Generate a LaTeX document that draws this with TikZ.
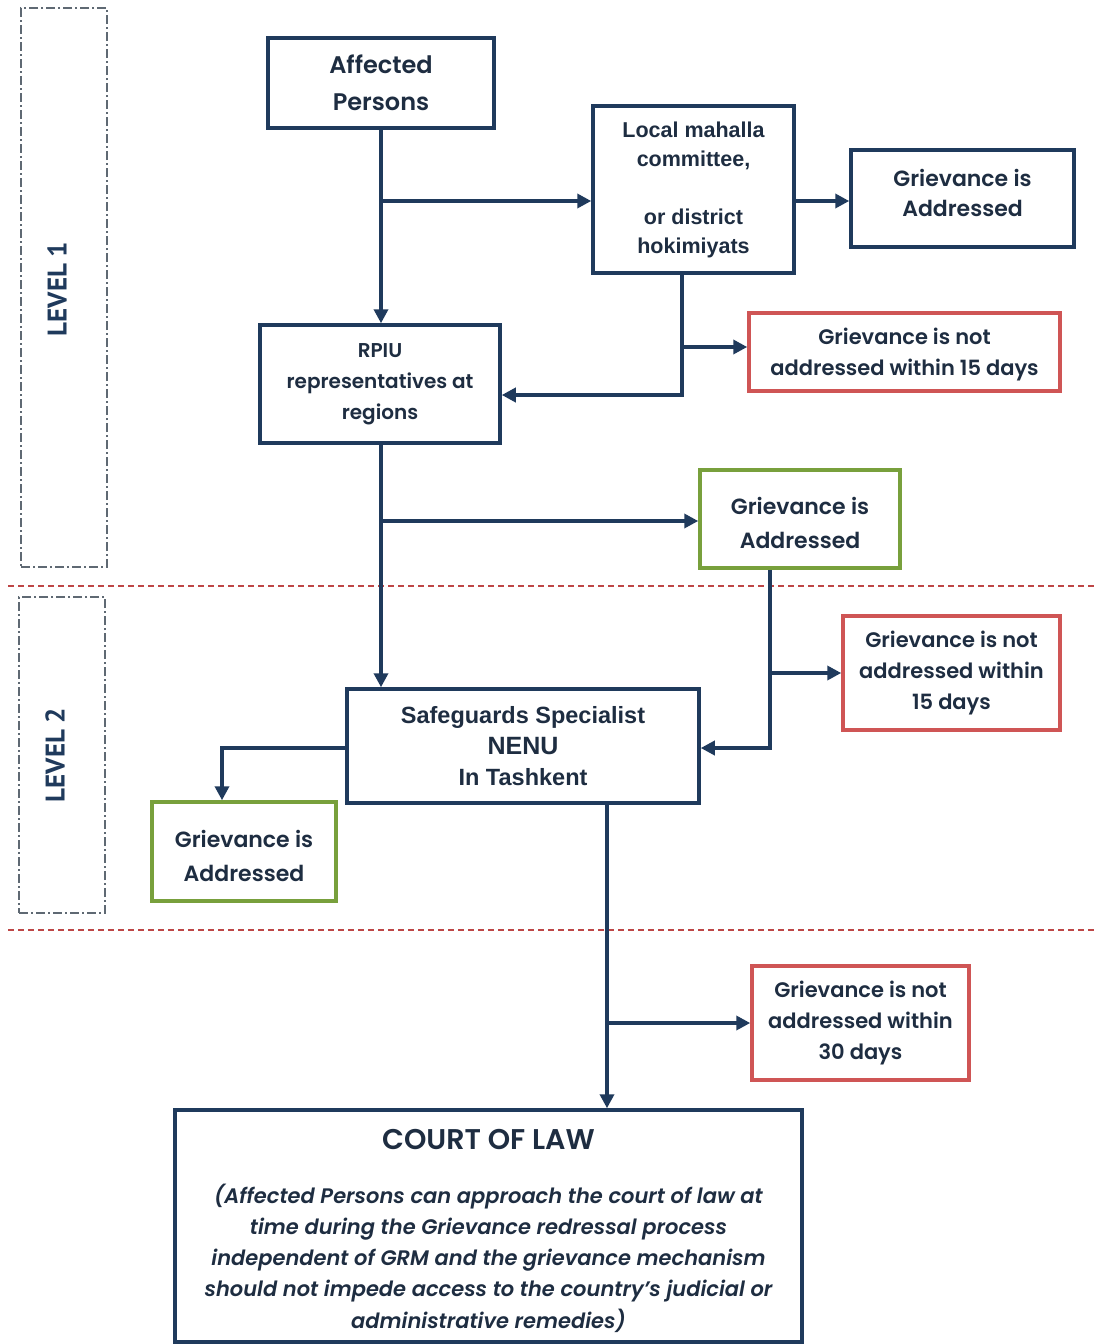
\documentclass[tikz,border=0pt]{standalone}
\usepackage{fontspec}
\setmainfont{Poppins}[BoldFont=* SemiBold, BoldItalicFont=* SemiBold Italic]
\newfontfamily\arialf{Liberation Sans}
\newfontfamily\levelf{PT Sans}
\usetikzlibrary{arrows.meta}
\definecolor{navy}{RGB}{31,58,92}
\definecolor{ink}{RGB}{30,45,65}
\definecolor{redc}{RGB}{207,85,85}
\definecolor{greenc}{RGB}{120,160,60}
\definecolor{dashgray}{RGB}{95,105,115}
\definecolor{reddash}{RGB}{190,70,70}
\begin{document}
\begin{tikzpicture}[x=1pt,y=-1pt,
  box/.style={draw=navy, line width=3.5pt, text=ink, align=center, inner sep=0pt},
  redbox/.style={box, draw=redc},
  greenbox/.style={box, draw=greenc},
  txt/.style={text=ink, align=center, inner sep=0pt},
  conn/.style={draw=navy, line width=3.5pt, -{Triangle[length=14pt,width=14pt]}},
  levelbox/.style={draw=dashgray, line width=1.3pt, dash pattern=on 9pt off 3pt on 2pt off 3pt},
  leveltext/.style={text=navy, font=\levelf\bfseries\fontsize{27}{30}\selectfont, rotate=90},
  sep/.style={draw=reddash, line width=1.3pt, dash pattern=on 6pt off 4pt}
]
\useasboundingbox (0,0) rectangle (1095,1344);
\fill[white] (0,0) rectangle (1095,1344);

% level boxes
\node[levelbox, minimum width=86pt, minimum height=559pt] (lb1) at (64,287.5) {};
\node[leveltext] (lt1) at (57,289) {LEVEL 1};
\node[levelbox, minimum width=86pt, minimum height=316pt] (lb2) at (62,755) {};
\node[leveltext] (lt2) at (55,755) {LEVEL 2};

% separators
\coordinate (s1a) at (8,586); \coordinate (s1b) at (1095,586);
\coordinate (s2a) at (8,930); \coordinate (s2b) at (1095,930);
\draw[sep] (s1a) -- (s1b);
\draw[sep] (s2a) -- (s2b);

% nodes
\node[box, minimum width=226pt, minimum height=90pt, font=\bfseries\fontsize{24}{37}\selectfont] (ap) at (381,83) {Affected\\Persons};
\node[box, minimum width=201pt, minimum height=167pt, font=\arialf\bfseries\fontsize{21.5}{29}\selectfont] (mah) at (693.5,189.5) {Local mahalla\\committee,\\[29pt]or district\\hokimiyats};
\node[box, minimum width=223pt, minimum height=97pt,
  label={[txt, font=\bfseries\fontsize{22}{30}\selectfont, yshift=6pt]center:{Grievance is\\Addressed}}] (ga1) at (962.5,198.5) {};
\node[redbox, minimum width=311pt, minimum height=78pt,
  label={[txt, font=\bfseries\fontsize{21}{31}\selectfont, yshift=-3pt]center:{Grievance is not\\addressed within 15 days}}] (nr1) at (904.5,352) {};
\node[box, minimum width=240pt, minimum height=118pt, font=\bfseries\fontsize{20}{31}\selectfont] (rpiu) at (380,384) {RPIU\\representatives at\\regions};
\node[greenbox, minimum width=200pt, minimum height=98pt,
  label={[txt, font=\bfseries\fontsize{22}{34}\selectfont, yshift=-3.5pt]center:{Grievance is\\Addressed}}] (ga2) at (800,519) {};
\node[redbox, minimum width=217pt, minimum height=114pt, font=\bfseries\fontsize{21}{31}\selectfont] (nr2) at (951.5,673) {Grievance is not\\addressed within\\15 days};
\node[box, minimum width=352pt, minimum height=114pt, font=\arialf\bfseries\fontsize{23.5}{31}\selectfont] (saf) at (523,746) {Safeguards Specialist\\{\fontsize{25}{31}\selectfont NENU}\\In Tashkent};
\node[greenbox, minimum width=184pt, minimum height=99pt,
  label={[txt, font=\bfseries\fontsize{22}{34}\selectfont, yshift=-4pt]center:{Grievance is\\Addressed}}] (ga3) at (244,851.5) {};
\node[redbox, minimum width=217pt, minimum height=114pt, font=\bfseries\fontsize{21}{31}\selectfont] (nr3) at (860.5,1023) {Grievance is not\\addressed within\\30 days};
\node[box, minimum width=627pt, minimum height=232pt,
  label={[txt, font=\bfseries\fontsize{21}{31.3}\selectfont, yshift=-5pt]center:{{\fontsize{28.5}{31}\selectfont COURT OF LAW}\\[22pt]
  \itshape (Affected Persons can approach the court of law at\\
  \itshape time during the Grievance redressal process\\
  \itshape independent of GRM and the grievance mechanism\\
  \itshape should not impede access to the country's judicial or\\
  \itshape administrative remedies)}}] (court) at (488.5,1226) {};

% connectors
\coordinate (j1) at (381,201);
\coordinate (k1) at (682,395);
\coordinate (k2) at (682,347);
\coordinate (v1) at (381,0);
\coordinate (j3) at (381,521);
\coordinate (k3) at (770,748);
\coordinate (k4) at (770,673);
\coordinate (k5) at (222,748);
\coordinate (v2) at (607,0);
\coordinate (j4) at (607,1023);

\draw[conn] (ap.south) -- (ap.south |- rpiu.north);
\draw[conn] (j1) -- (j1 -| mah.west);
\draw[conn] (mah.east |- j1) -- (ga1.west |- j1);
\draw[conn] (k1 |- mah.south) -- (k1) -- (k1 -| rpiu.east);
\draw[conn] (k2) -- (k2 -| nr1.west);
\draw[conn] (v1 |- rpiu.south) -- (v1 |- saf.north);
\draw[conn] (j3) -- (j3 -| ga2.west);
\draw[conn] (k3 |- ga2.south) -- (k3) -- (k3 -| saf.east);
\draw[conn] (k4) -- (k4 -| nr2.west);
\draw[conn] (k5 -| saf.west) -- (k5) -- (k5 |- ga3.north);
\draw[conn] (v2 |- saf.south) -- (v2 |- court.north);
\draw[conn] (j4) -- (j4 -| nr3.west);
\end{tikzpicture}
\end{document}
